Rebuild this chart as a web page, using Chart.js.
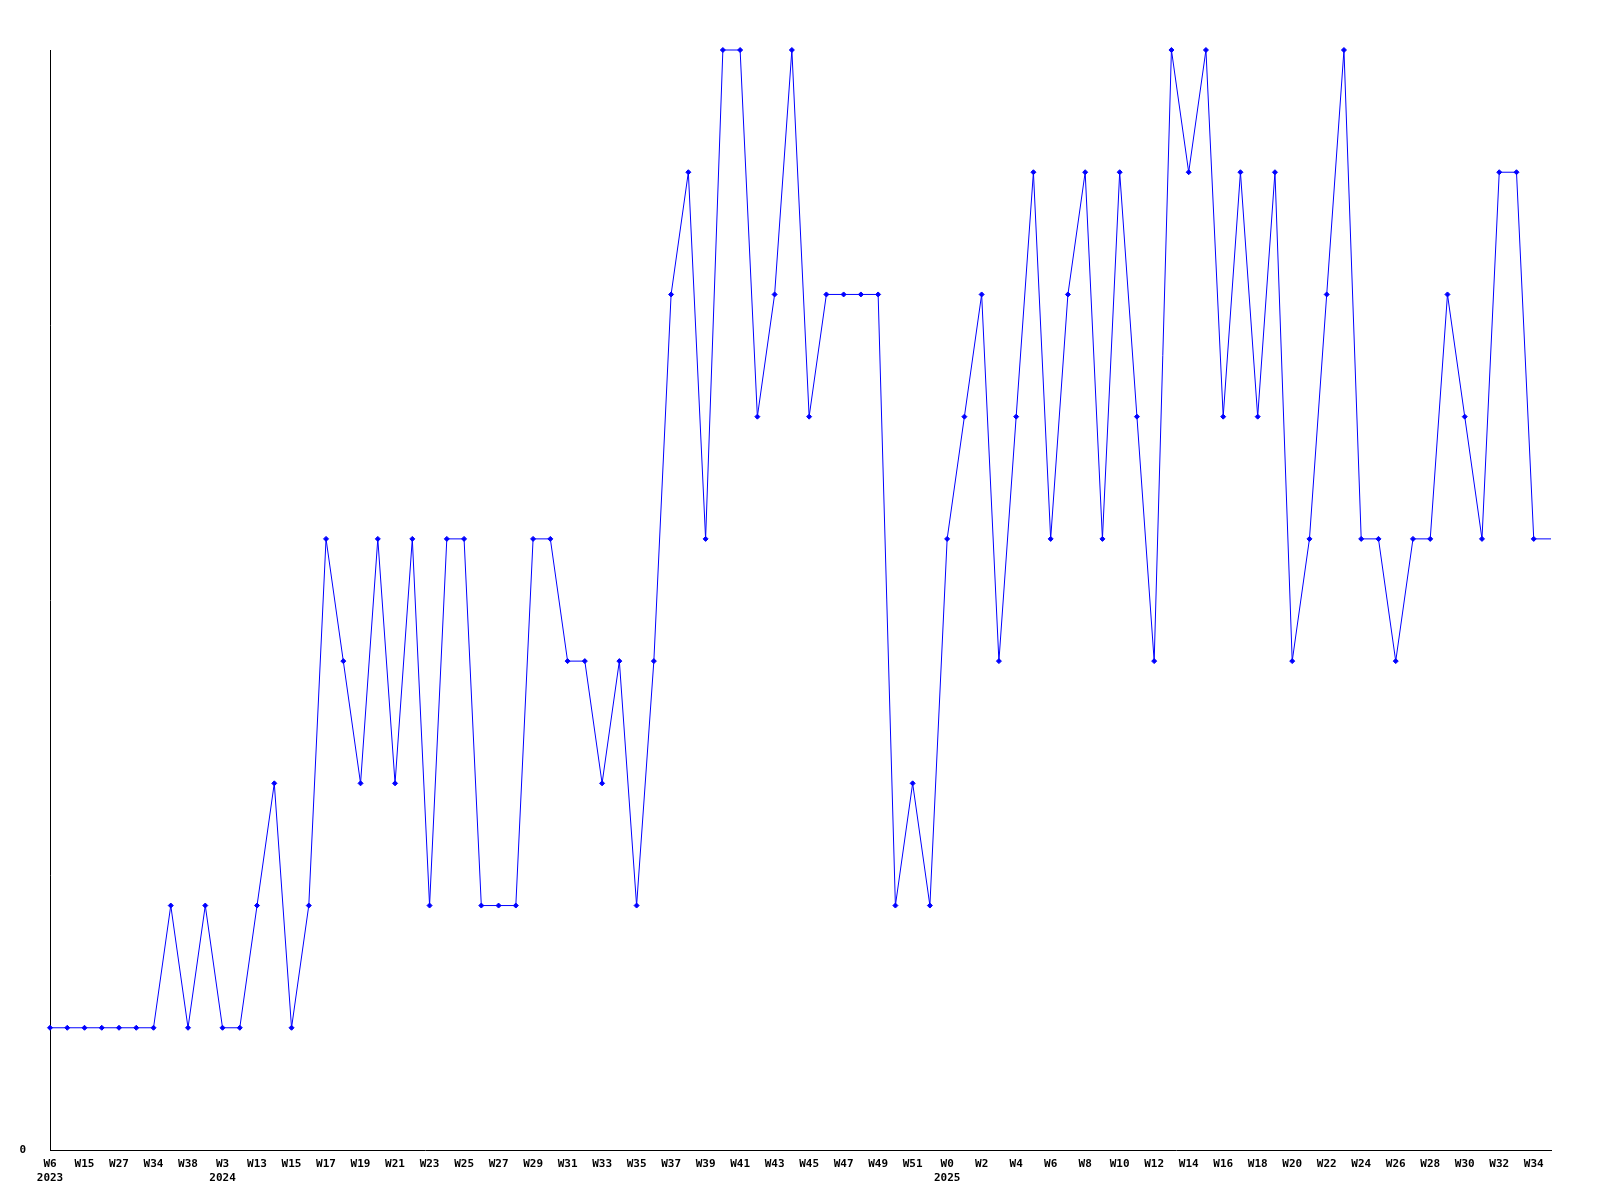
<!DOCTYPE html>
<html lang="en">
<head>
    <meta charset="UTF-8">
    <title>Weekly count</title>
    <script src="https://cdn.jsdelivr.net/npm/chart.js"></script>
    <style>
        body { margin: 0; background: #fff; }
        #box { width: 1600px; height: 1200px; }
    </style>
</head>
<body>
    <div id="box">
        <canvas id="myChart" width="1600" height="1200"></canvas>
    </div>

    <script>
        // week of each point (only every second one is labelled on the axis)
        const weeks = [
            'W6', 'W10', 'W15', 'W22', 'W27', 'W31', 'W34', 'W36', 'W38', 'W45',
            'W3', 'W8', 'W13', 'W14', 'W15', 'W16', 'W17', 'W18', 'W19', 'W20',
            'W21', 'W22', 'W23', 'W24', 'W25', 'W26', 'W27', 'W28', 'W29', 'W30',
            'W31', 'W32', 'W33', 'W34', 'W35', 'W36', 'W37', 'W38', 'W39', 'W40',
            'W41', 'W42', 'W43', 'W44', 'W45', 'W46', 'W47', 'W48', 'W49', 'W50',
            'W51', 'W52', 'W0', 'W1', 'W2', 'W3', 'W4', 'W5', 'W6', 'W7',
            'W8', 'W9', 'W10', 'W11', 'W12', 'W13', 'W14', 'W15', 'W16', 'W17',
            'W18', 'W19', 'W20', 'W21', 'W22', 'W23', 'W24', 'W25', 'W26', 'W27',
            'W28', 'W29', 'W30', 'W31', 'W32', 'W33', 'W34', 'W35'
        ];
        // year shown under the first week of each year
        const yearMarks = { 0: '2023', 10: '2024', 52: '2025' };

        const counts = [
            1, 1, 1, 1, 1, 1, 1, 2, 1, 2,
            1, 1, 2, 3, 1, 2, 5, 4, 3, 5,
            3, 5, 2, 5, 5, 2, 2, 2, 5, 5,
            4, 4, 3, 4, 2, 4, 7, 8, 5, 9,
            9, 6, 7, 9, 6, 7, 7, 7, 7, 2,
            3, 2, 5, 6, 7, 4, 6, 8, 5, 7,
            8, 5, 8, 6, 4, 9, 8, 9, 6, 8,
            6, 8, 4, 5, 7, 9, 5, 5, 4, 5,
            5, 7, 6, 5, 8, 8, 5, 5
        ];

        const tickFont = { family: 'DejaVu Sans Mono', size: 11, weight: 'bold' };

        // last point has no marker, the line just runs to the axis end
        const radii = counts.map((v, i) => i === counts.length - 1 ? 0 : 2.5);

        const ctx = document.getElementById('myChart').getContext('2d');
        new Chart(ctx, {
            type: 'line',
            data: {
                labels: weeks,
                datasets: [{
                    data: counts,
                    borderColor: '#0000ff',
                    backgroundColor: '#0000ff',
                    borderWidth: 1,
                    pointStyle: 'rectRot',
                    pointRadius: radii,
                    pointBorderWidth: 1,
                    tension: 0,
                    clip: false
                }]
            },
            options: {
                responsive: false,
                animation: false,
                layout: {
                    padding: { top: 50, right: 49, left: 0, bottom: 0 }
                },
                plugins: {
                    legend: { display: false },
                    tooltip: { enabled: false }
                },
                scales: {
                    x: {
                        offset: false,
                        grid: { display: false, drawTicks: false },
                        border: { display: true, color: '#000', width: 1 },
                        ticks: {
                            autoSkip: false,
                            maxRotation: 0,
                            minRotation: 0,
                            padding: 8,
                            color: '#000',
                            font: tickFont,
                            callback: function (value, index) {
                                if (index % 2 !== 0) return '';
                                const w = weeks[index];
                                return yearMarks[index] ? [w, yearMarks[index]] : w;
                            }
                        },
                        afterFit: function (scale) { scale.height = 50; }
                    },
                    y: {
                        min: 0,
                        max: 9,
                        grid: { display: false, drawTicks: false },
                        border: { display: true, color: '#000', width: 1 },
                        ticks: {
                            stepSize: 1,
                            padding: 24,
                            color: '#000',
                            font: tickFont,
                            callback: v => v === 0 ? '0' : ''
                        },
                        afterFit: function (scale) { scale.width = 50; }
                    }
                }
            }
        });
    </script>
</body>
</html>
